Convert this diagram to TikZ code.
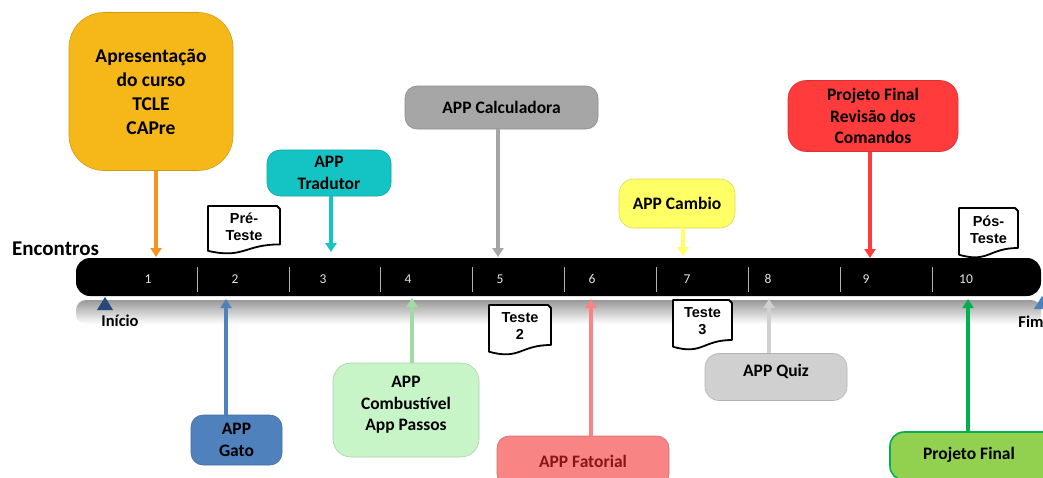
\documentclass[tikz,border=0pt]{standalone}
\usepackage{fontspec}
\setmainfont{Carlito}
\newfontfamily\arialf{Liberation Sans}
\usetikzlibrary{arrows.meta}
\definecolor{orB}{HTML}{F6B719}
\definecolor{orA}{HTML}{F7941D}
\definecolor{teB}{HTML}{14C4C4}
\definecolor{grB}{HTML}{A6A6A6}
\definecolor{yeB}{HTML}{FFFF66}
\definecolor{reB}{HTML}{FF3B3B}
\definecolor{blB}{HTML}{4F81BD}
\definecolor{lgB}{HTML}{C8F5C8}
\definecolor{lgA}{HTML}{A3D9A3}
\definecolor{saB}{HTML}{F88484}
\definecolor{saT}{HTML}{8B1414}
\definecolor{qgB}{HTML}{D0D0D0}
\definecolor{gnB}{HTML}{92D050}
\definecolor{gnA}{HTML}{00B050}
\definecolor{inB}{HTML}{27497A}
\newcommand\mydoc[6]{%
  \draw[line width=1.8pt, fill=white, line join=round]
    (#2,#3) -- ({#2+#4-3},#3) -- ({#2+#4},{#3+3}) -- ({#2+#4},{#3+0.8*#5})
    .. controls ({#2+0.5*#4},{#3+0.8*#5}) and ({#2+0.5*#4},{#3+1.107*#5}) .. (#2,{#3+0.934*#5}) -- cycle;
  \node[doctext] (#1) at ({#2+0.5*#4},{#3+0.43*#5}) {#6};}
\begin{document}
\begin{tikzpicture}[x=1pt,y=-1pt,
  box/.style={rounded corners=#1, font=\bfseries\fontsize{17.5}{21.5}\selectfont,
    align=center, inner sep=0pt, line width=0.6pt},
  box/.default=13pt,
  btext/.style={font=\bfseries\fontsize{17.5}{21.5}\selectfont, align=center, inner sep=0pt},
  doctext/.style={font=\arialf\bfseries\fontsize{14.5}{17}\selectfont, align=center, inner sep=0pt},
  arr/.style={line width=3.2pt, -{Triangle[width=11pt,length=9pt]}},
  num/.style={font=\fontsize{13.5}{14}\selectfont, text=gray!20, inner sep=0pt},
  tick/.style={draw=gray!60, line width=0.8pt}
]
\useasboundingbox (0,0) rectangle (1043,477);
\fill[white] (0,0) rectangle (1043,477);

% reflection below the bar
\shade[top color=gray!80, bottom color=white, rounded corners=10pt] (76,300) rectangle (1041,324);

% timeline bar
\node[fill=black, rounded corners=14pt, minimum width=965pt, minimum height=38pt, inner sep=0pt] (bar) at (558.5,277) {};
\foreach \x in {197,289,380,472,564,656,748,840,932}
  \draw[tick] (\x,267) -- (\x,292);
\node[num] (n1) at (148,279) {1};
\node[num] (n2) at (235,279) {2};
\node[num] (n3) at (323,279) {3};
\node[num] (n4) at (408,279) {4};
\node[num] (n5) at (500,279) {5};
\node[num] (n6) at (592,279) {6};
\node[num] (n7) at (687,279) {7};
\node[num] (n8) at (768,279) {8};
\node[num] (n9) at (866,279) {9};
\node[num] (n10) at (966,279) {10};

\node[anchor=base west, inner sep=0pt, font=\bfseries\fontsize{21}{24}\selectfont] (enc) at (12,255) {Encontros};

% start / end markers
\fill[inB] (105,297) -- (113,310) -- (97,310) -- cycle;
\node[font=\bfseries\fontsize{16.5}{18}\selectfont, inner sep=0pt] (ini) at (120,321) {Início};
\fill[blB] (1042,296) -- (1050,309) -- (1034,309) -- cycle;
\node[font=\bfseries\fontsize{16.5}{18}\selectfont, inner sep=0pt] (fim) at (1031,322) {Fim};

% boxes above
\node[box=35pt, fill=orB, draw=orB!85!black, minimum width=164pt, minimum height=158pt,
  font=\bfseries\fontsize{19.5}{24}\selectfont] (pres) at (151,91.5) {Apresentação\\do curso\\TCLE\\CAPre};
\node[box, fill=teB, draw=teB!85!black, minimum width=124pt, minimum height=46pt] (trad) at (329,173) {APP\\Tradutor};
\node[box=12pt, fill=grB, draw=grB!85!black, minimum width=193pt, minimum height=43pt] (calc) at (501.5,107.5) {APP Calculadora};
\node[box=15pt, fill=yeB, draw=yeB!85!black, minimum width=116pt, minimum height=49pt] (camb) at (677,203.5) {APP Cambio};
\node[box=18pt, fill=reB, draw=reB!85!black, minimum width=170pt, minimum height=71pt] (rev) at (873,116) {Projeto Final\\Revisão dos\\Comandos};

% boxes below
\node[box=12pt, fill=blB, draw=blB!85!black, minimum width=91pt, minimum height=50pt] (gato) at (236.5,440) {APP\\Gato};
\node[box=18pt, fill=lgB, draw=lgB!85!black, minimum width=146pt, minimum height=94pt] (comb) at (406,410) {};
\node[btext] (combt) at (406,405) {APP\\Combustível\\App Passos};
\node[box=12pt, fill=saB, draw=saB!85!black, minimum width=172pt, minimum height=50pt, text=saT] (fat) at (583,461) {APP Fatorial};
\node[box=14pt, fill=qgB, draw=qgB!85!black, minimum width=142pt, minimum height=47pt] (quiz) at (776,377) {};
\node[btext] (quizt) at (776,371) {APP Quiz};
\node[box=14pt, fill=gnB, draw=gnA, line width=1.6pt, minimum width=170pt, minimum height=48pt] (pfin) at (975,456) {};
\node[btext] (pfint) at (969,455) {Projeto Final};

% arrow tips
\coordinate (t1) at (156,257);
\coordinate (t3) at (331,252);
\coordinate (t5) at (498,257);
\coordinate (t7) at (683,256);
\coordinate (t9) at (870,258);
\coordinate (b2) at (226,299);
\coordinate (b4) at (412,298);
\coordinate (b6) at (591,299);
\coordinate (b8) at (769,299);
\coordinate (b10) at (968,299);

\draw[arr, orA] (pres.south -| t1) -- (t1);
\draw[arr, teB] (trad.south -| t3) -- (t3);
\draw[arr, grB] (calc.south -| t5) -- (t5);
\draw[arr, yeB] (camb.south -| t7) -- (t7);
\draw[arr, reB] (rev.south -| t9) -- (t9);
\draw[arr, blB] (gato.north -| b2) -- (b2);
\draw[arr, lgA] (comb.north -| b4) -- (b4);
\draw[arr, saB] (fat.north -| b6) -- (b6);
\draw[arr, qgB] (quiz.north -| b8) -- (b8);
\draw[arr, gnA] (pfin.north -| b10) -- (b10);

% documents
\mydoc{pre}{208}{206}{72}{48}{Pré-\\Teste}
\mydoc{t2}{489}{305}{62}{50}{Teste\\2}
\mydoc{t3d}{673}{300}{59}{50}{Teste\\3}
\mydoc{pos}{959}{208}{59}{50}{Pós-\\Teste}
\end{tikzpicture}
\end{document}
